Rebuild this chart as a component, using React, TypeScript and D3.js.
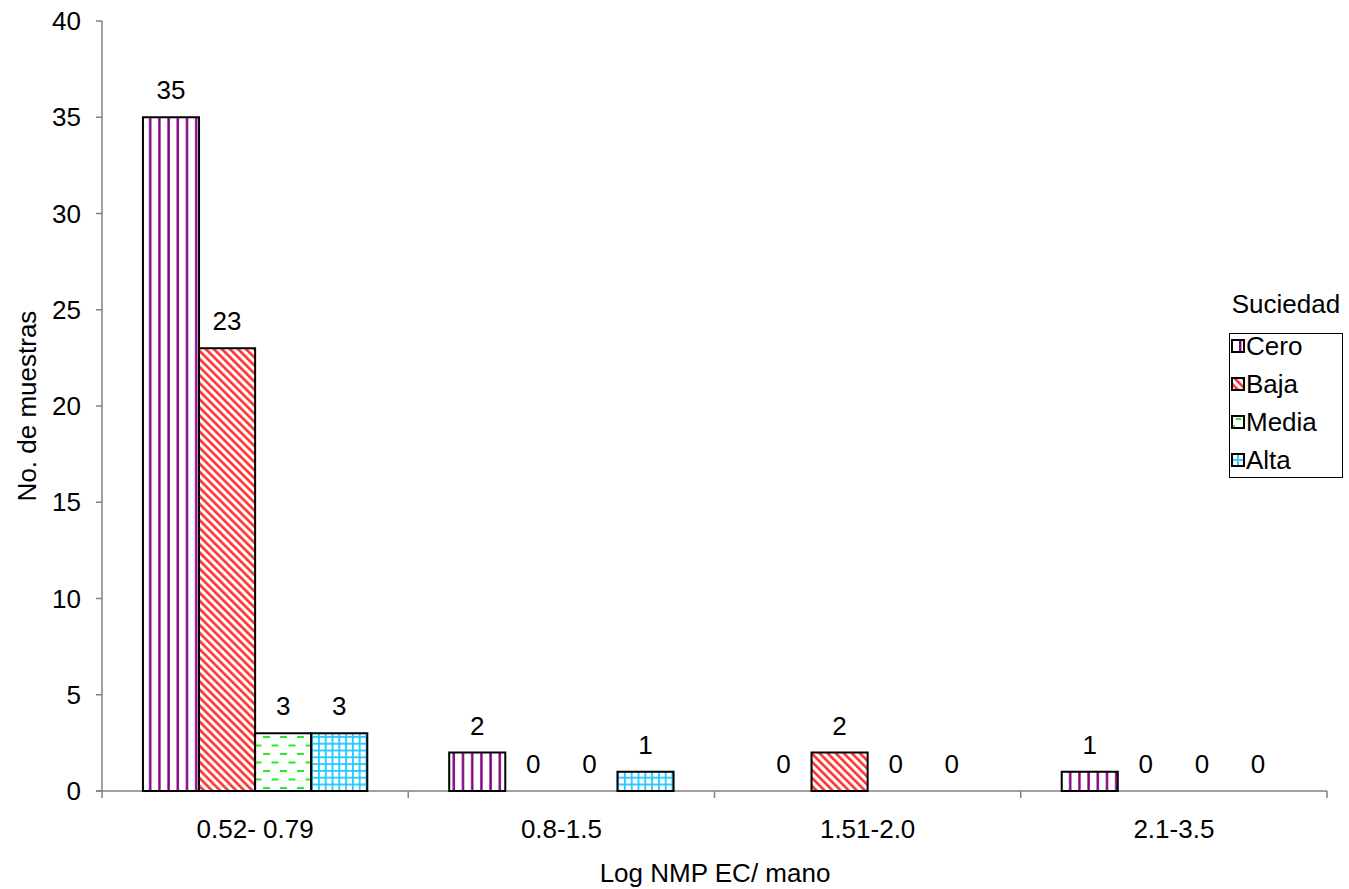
import React from "react";
import * as d3 from "d3";

const categories = ["0.52- 0.79", "0.8-1.5", "1.51-2.0", "2.1-3.5"];
const seriesNames = ["Cero", "Baja", "Media", "Alta"];
const cero = [35, 2, 0, 1];
const baja = [23, 0, 2, 0];
const media = [3, 0, 0, 0];
const alta = [3, 1, 0, 0];
const yTicks = [0, 5, 10, 15, 20, 25, 30, 35, 40];

const seriesValues = [cero, baja, media, alta];
const patternIds = ["pCero", "pBaja", "pMedia", "pAlta"];
const legendPatternIds = ["lCero", "pBaja", "lMedia", "lAlta"];

export default function App() {
  const W = 1349, H = 889;
  const left = 102, right = 1327, top = 21, bottom = 791;
  const x = d3.scaleBand<string>().domain(categories).range([left, right]).paddingInner(0).paddingOuter(0);
  const inner = d3.scaleBand<string>().domain(seriesNames).range([0, x.bandwidth()]).paddingInner(0).paddingOuter(0.73);
  const y = d3.scaleLinear().domain([0, 40]).range([bottom, top]);
  const font = "Liberation Sans, Arial, sans-serif";
  const axisColor = "#808080";
  const fs = 26;

  return (
    <svg width={W} height={H} style={{ position: "absolute", left: 0, top: 0, background: "#fff" }} fontFamily={font}>
      <defs>
        <pattern id="pCero" patternUnits="userSpaceOnUse" width={9.2} height={10} x={146}>
          <rect width={9.2} height={10} fill="#fff" />
          <rect x={3} y={0} width={2.4} height={10} fill="#800080" />
        </pattern>
        <pattern id="lCero" patternUnits="userSpaceOnUse" width={12} height={12} x={1232}>
          <rect width={12} height={12} fill="#fff" />
          <rect x={7} y={0} width={2.4} height={12} fill="#800080" />
        </pattern>
        <pattern id="pBaja" patternUnits="userSpaceOnUse" width={5.7} height={10} patternTransform="rotate(-45)">
          <rect width={5.7} height={10} fill="#fff" />
          <rect x={0} y={0} width={2.6} height={10} fill="#ff3030" />
        </pattern>
        <pattern id="pMedia" patternUnits="userSpaceOnUse" width={17} height={17} x={259} y={736}>
          <rect width={17} height={17} fill="#fff" />
          <rect x={4} y={0} width={7} height={2} fill="#22ee22" />
          <rect x={12.5} y={8.5} width={7} height={2} fill="#22ee22" />
          <rect x={-4.5} y={8.5} width={7} height={2} fill="#22ee22" />
        </pattern>
        <pattern id="lMedia" patternUnits="userSpaceOnUse" width={12} height={12} x={1232} y={417}>
          <rect width={12} height={12} fill="#fff" />
          <rect x={4} y={1} width={5} height={2} fill="#22ee22" />
          <rect x={0} y={8} width={3} height={2} fill="#22ee22" />
        </pattern>
        <pattern id="pAlta" patternUnits="userSpaceOnUse" width={6.8} height={6.8} x={315} y={733}>
          <rect width={6.8} height={6.8} fill="#fff" />
          <rect x={3} y={0} width={1.8} height={6.8} fill="#22c8ff" />
          <rect x={0} y={3} width={6.8} height={1.8} fill="#22c8ff" />
        </pattern>
        <pattern id="lAlta" patternUnits="userSpaceOnUse" width={12} height={12} x={1232} y={454}>
          <rect width={12} height={12} fill="#fff" />
          <rect x={5} y={0} width={1.8} height={12} fill="#22c8ff" />
          <rect x={0} y={5} width={12} height={1.8} fill="#22c8ff" />
        </pattern>
      </defs>

      {/* axes */}
      <line x1={left} x2={left} y1={top} y2={bottom} stroke={axisColor} strokeWidth={1.5} />
      <line x1={left - 6} x2={right} y1={bottom} y2={bottom} stroke={axisColor} strokeWidth={1.5} />
      {yTicks.map((t) => (
        <g key={t}>
          <line x1={left - 6} x2={left} y1={y(t)} y2={y(t)} stroke={axisColor} strokeWidth={1.5} />
          <text x={left - 21} y={y(t)} dy="0.35em" textAnchor="end" fontSize={fs} fill="#000">{t}</text>
        </g>
      ))}
      {[...categories.map((c) => x(c)!), right].map((v, i) => (
        <line key={i} x1={v} x2={v} y1={bottom} y2={bottom + 7} stroke={axisColor} strokeWidth={1.5} />
      ))}
      {categories.map((c) => (
        <text key={c} x={x(c)! + x.bandwidth() / 2} y={838} textAnchor="middle" fontSize={fs} fill="#000">{c}</text>
      ))}

      {/* bars */}
      {seriesValues.map((vals, si) =>
        categories.map((c, ci) => {
          const v = vals[ci];
          const bx = x(c)! + inner(seriesNames[si])!;
          const bw = inner.bandwidth();
          return (
            <g key={si + "-" + ci}>
              {v > 0 && (
                <rect x={bx} y={y(v)} width={bw} height={bottom - y(v)} fill={`url(#${patternIds[si]})`} stroke="#000" strokeWidth={2} />
              )}
              <text x={bx + bw / 2} y={y(v) - 18} textAnchor="middle" fontSize={fs} fill="#000">{v}</text>
            </g>
          );
        })
      )}

      {/* axis titles */}
      <text x={715} y={882} textAnchor="middle" fontSize={fs} fill="#000">Log NMP EC/ mano</text>
      <text transform={`translate(36,406) rotate(-90)`} textAnchor="middle" fontSize={fs} fill="#000">No. de muestras</text>

      {/* legend */}
      <text x={1286} y={313} textAnchor="middle" fontSize={fs} fill="#000">Suciedad</text>
      <rect x={1229.5} y={333.5} width={113} height={144} fill="#fff" stroke="#000" strokeWidth={1} />
      {seriesNames.map((s, i) => {
        const cy = 346 + i * 38;
        return (
          <g key={s}>
            <rect x={1232} y={cy - 6} width={12} height={12} fill={`url(#${legendPatternIds[i]})`} stroke="#000" strokeWidth={2} />
            <text x={1246} y={cy} dy="0.35em" fontSize={fs} fill="#000">{s}</text>
          </g>
        );
      })}
    </svg>
  );
}
